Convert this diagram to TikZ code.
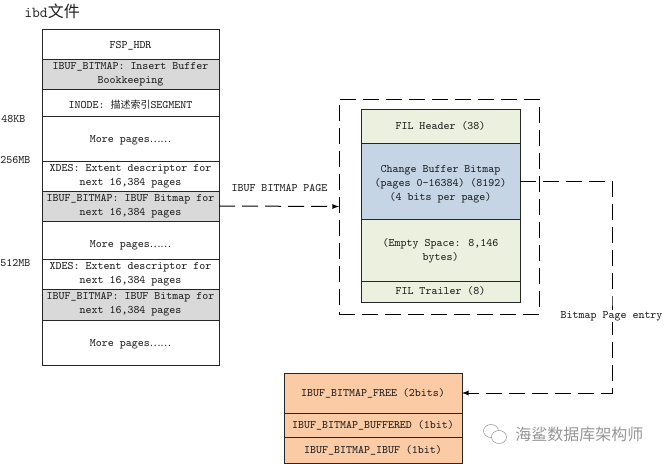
\documentclass[tikz,border=0pt]{standalone}
\usepackage{fontspec}
\usetikzlibrary{shapes.geometric}
\newfontfamily\cjk{Noto Sans CJK SC}
\def\px{0.75pt}
\newcommand{\morepages}{More pages{\cjk\fontsize{7.5}{10.7}\selectfont ……}}
\definecolor{grayfill}{HTML}{D9D9D9}
\definecolor{greenfill}{HTML}{EBF1DE}
\definecolor{bluefill}{HTML}{C6D5E6}
\definecolor{orangefill}{HTML}{FBCBA6}
\definecolor{textgray}{HTML}{202020}
\definecolor{markgray}{HTML}{969696}
\tikzset{
    pagebox/.style={draw=black!85, line width=\px, outer sep=0pt, inner sep=0pt, align=center,
        text=textgray, font=\ttfamily\fontsize{8.57}{10.7}\selectfont, minimum width=#1*\px},
    leftbox/.style={pagebox=177},
    rightbox/.style={pagebox=159, fill=greenfill},
    entrybox/.style={pagebox=178, fill=orangefill},
    sizelabel/.style={inner sep=0pt, text=textgray, font=\ttfamily\fontsize{8.57}{10.7}\selectfont},
    flow/.style={line width=\px, dash pattern=on 16*\px off 7*\px},
    bubble/.style={draw=markgray, fill=white, ellipse, inner sep=0pt, minimum width=15*\px, minimum height=13*\px}
}
\begin{document}
\begin{tikzpicture}[x=\px, y=-\px]
        \useasboundingbox (0,0) rectangle (664,464);

        % Title and offsets
        \node[sizelabel, font=\ttfamily\fontsize{11.4}{12}\selectfont, anchor=west] (title) at (24,11) {ibd{\cjk\fontsize{12}{12}\selectfont 文件}};
        \node[sizelabel, anchor=west] (off48) at (1,119) {48KB};
        \node[sizelabel, anchor=west] (off256) at (0,160) {256MB};
        \node[sizelabel, anchor=west] (off512) at (0,263) {512MB};

        % Left column of pages
        \node[leftbox, minimum height=30*\px] (fsp) at (130.5,44) {\rule{0pt}{7.5pt}FSP\_HDR};
        \node[leftbox, minimum height=30*\px, fill=grayfill] (bookkeeping) at (130.5,74) {IBUF\_BITMAP: Insert Buffer\\Bookkeeping};
        \node[leftbox, minimum height=27*\px] (inode) at (130.5,102.5) {\rule{0pt}{9pt}INODE: {\cjk\fontsize{7.5}{10.7}\selectfont 描述索引}SEGMENT};
        \node[leftbox, minimum height=45*\px] (more1) at (130.5,138.5) {\rule{0pt}{7.5pt}\morepages};
        \node[leftbox, minimum height=30*\px] (xdes1) at (130.5,176) {XDES: Extent descriptor for\\next 16,384 pages};
        \node[leftbox, minimum height=30*\px, fill=grayfill] (ibuf1) at (130.5,206) {IBUF\_BITMAP: IBUF Bitmap for\\next 16,384 pages};
        \node[leftbox, minimum height=38*\px] (more2) at (130.5,240) {\rule{0pt}{13pt}\morepages};
        \node[leftbox, minimum height=30*\px] (xdes2) at (130.5,274) {XDES: Extent descriptor for\\next 16,384 pages};
        \node[leftbox, minimum height=31*\px, fill=grayfill] (ibuf2) at (130.5,304.5) {IBUF\_BITMAP: IBUF Bitmap for\\next 16,384 pages};
        \node[leftbox, minimum height=45*\px] (more3) at (130.5,342.5) {\rule{0pt}{7.5pt}\morepages};

        % Bitmap page
        \node[draw=black, flow, outer sep=0pt, minimum width=200*\px, minimum height=215*\px] (bitmappage) at (439,206.5) {};
        \node[rightbox, minimum height=34*\px] (filheader) at (440.5,126) {FIL Header (38)};
        \node[rightbox, minimum height=76*\px, fill=bluefill] (changebuffer) at (440.5,181) {\rule{0pt}{10pt}Change Buffer Bitmap\\(pages 0-16384) (8192)\\(4 bits per page)};
        \node[rightbox, minimum height=62*\px] (emptyspace) at (440.5,250) {\rule{0pt}{7pt}(Empty Space: 8,146\\bytes)};
        \node[rightbox, minimum height=21*\px] (filtrailer) at (440.5,291.5) {FIL Trailer (8)};

        % Entry of the bitmap
        \node[entrybox, minimum height=40*\px] (free) at (373,393) {IBUF\_BITMAP\_FREE (2bits)};
        \node[entrybox, minimum height=24*\px] (buffered) at (373,425) {IBUF\_BITMAP\_BUFFERED (1bit)};
        \node[entrybox, minimum height=26*\px] (ibufbit) at (373,450) {IBUF\_BITMAP\_IBUF (1bit)};

        % Connectors
        \coordinate (turn) at (612,300);
        \draw[flow, -latex] (ibuf1.east) -- (bitmappage.west);
        \draw[flow, -latex] (changebuffer.east) -| (turn) |- (free.east);

        % Connector labels
        \node[sizelabel] (pagelabel) at (279.5,188) {IBUF BITMAP PAGE};
        \node[sizelabel, fill=white, inner sep=1pt] (entrylabel) at (611.5,316) {Bitmap Page entry};

        % Watermark
        \node[bubble] (bubbleleft) at (491,431) {};
        \node[bubble] (bubbleright) at (499,437) {};
        \node[inner sep=0pt, text=markgray, anchor=west, font=\cjk\fontsize{12}{12}\selectfont] (watermark) at (515,434.5) {海鲨数据库架构师};
    \end{tikzpicture}
\end{document}
